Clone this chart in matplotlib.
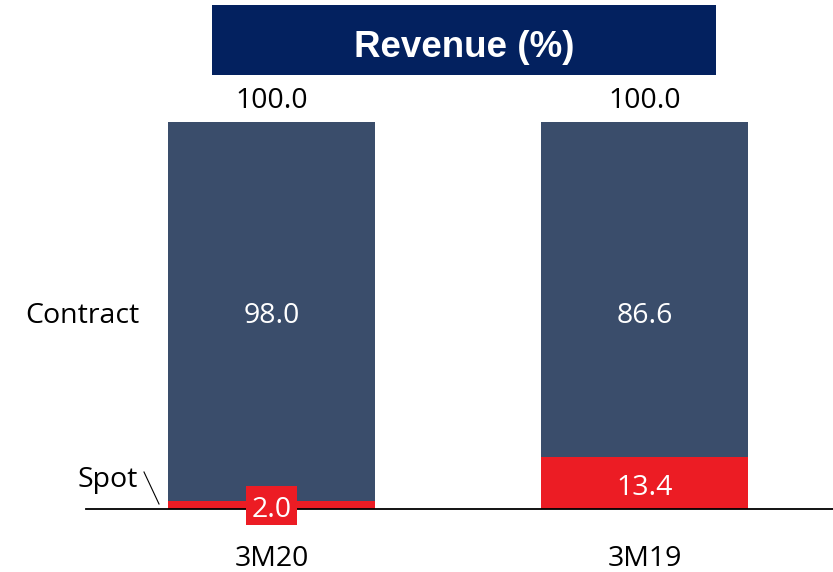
import numpy as np
import matplotlib.pyplot as plt
import matplotlib.patches as mpatches

# Datos
periods = ['3M20', '3M19']
spot = [2.0, 13.4]
contract = [98.0, 86.6]
totals = [100.0, 100.0]

col_contract = '#3A4D6B'
col_spot = '#EC1C24'
col_title = '#03215F'

plt.rcParams['font.family'] = ['Open Sans', 'DejaVu Sans']
fs = 20.5

W, H = 833, 572
fig = plt.figure(figsize=(W / 100, H / 100), dpi=100)
# eje: linea base en y=509 px, tope de barras en y=122 px
ax = fig.add_axes([86 / W, (H - 509) / H, 1 - 86 / W, 387 / H])

x = np.arange(len(periods))
w = 0.555
ax.bar(x, spot, width=w, color=col_spot, zorder=2)
ax.bar(x, contract, width=w, bottom=spot, color=col_contract, zorder=2)

ax.set_xlim(-0.497, 1.505)
ax.set_ylim(0, 100)
ax.axhline(0, color='black', lw=1.3, zorder=3, clip_on=False)
for s in ax.spines.values():
    s.set_visible(False)
ax.set_xticks([])
ax.set_yticks([])

# Etiquetas
for i in range(len(periods)):
    ax.text(x[i], totals[i] + 3.6, f'{totals[i]:.1f}', ha='center', va='baseline',
            fontsize=fs, color='black', clip_on=False)
    ax.text(x[i], 48.0, f'{contract[i]:.1f}', ha='center', va='baseline',
            fontsize=fs, color='white')
    ax.text(x[i], -14.7, periods[i], ha='center', va='baseline',
            fontsize=fs, color='black', clip_on=False)

# spot chico: caja roja encima de la linea base
ax.add_patch(mpatches.Rectangle((x[0] - 0.0685, -4.1), 0.137, 10.05,
                                fc=col_spot, ec='none', zorder=4, clip_on=False))
ax.text(x[0], -2.1, f'{spot[0]:.1f}', ha='center', va='baseline', fontsize=fs,
        color='white', zorder=5)
ax.text(x[1], 3.6, f'{spot[1]:.1f}', ha='center', va='baseline',
        fontsize=fs, color='white', zorder=4)

# Leyenda a la izquierda
fig.text(82 / W, 1 - 323 / H, 'Contract', ha='center', va='baseline', fontsize=fs)
fig.text(108 / W, 1 - 487 / H, 'Spot', ha='center', va='baseline', fontsize=fs)
fig.add_artist(plt.Line2D([144 / W, 159 / W], [1 - 472 / H, 1 - 504 / H],
                          color='black', lw=0.8, transform=fig.transFigure))

# Titulo
fig.add_artist(mpatches.Rectangle((212 / W, 1 - 75 / H), (716 - 212) / W, 70 / H,
                                  transform=fig.transFigure, fc=col_title, ec='none'))
fig.text(464 / W, 1 - 57 / H, 'Revenue (%)', ha='center', va='baseline',
         fontsize=26.5, fontweight='bold', color='white', family='Liberation Sans')

plt.savefig('out.png', dpi=100)
